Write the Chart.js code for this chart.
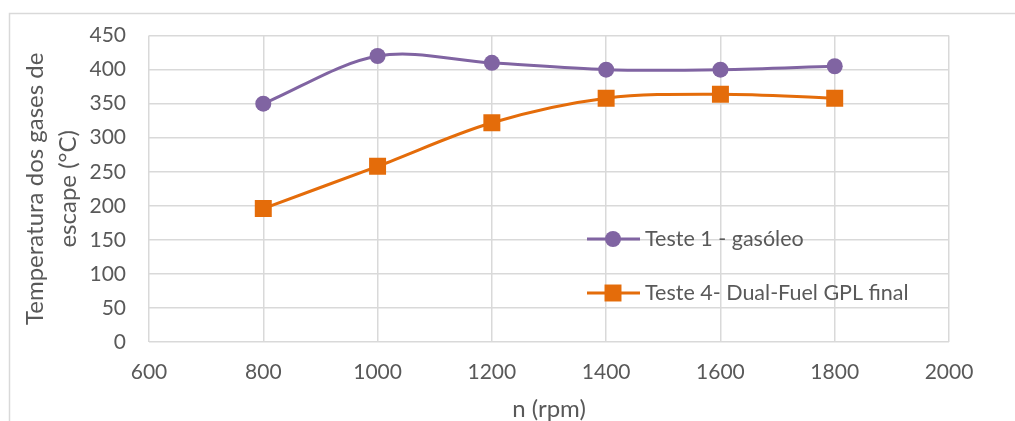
<!DOCTYPE html>
<html>
<head>
<meta charset="utf-8">
<script src="https://cdn.jsdelivr.net/npm/chart.js@4.4.1/dist/chart.umd.min.js"></script>
<style>
html,body{margin:0;padding:0;background:#fff;}
#wrap{width:1015px;height:421px;}
</style>
</head>
<body>
<div id="wrap"><canvas id="tempChart" width="1015" height="421"></canvas></div>
<script>
// data
const rpm = [800, 1000, 1200, 1400, 1600, 1800];
const teste1 = [350, 420, 410, 400, 400, 405];
const teste4 = [196, 258, 322, 358, 364, 358];
const seriesNames = ['Teste 1 - gasóleo', 'Teste 4- Dual-Fuel GPL final'];
const xRange = [600, 2000, 200];
const yRange = [0, 450, 50];

const txt = '#595959';
const gridCol = '#d9d9d9';
const fam = 'Lato, "Liberation Sans", sans-serif';

function pts(vals){
	return rpm.map((x, i) => ({x: x, y: vals[i]}));
}

// frame round the whole chart and the legend inside the plot
const frameLegend = {
	id: 'frameLegend',
	beforeDraw(chart){
		const ctx = chart.ctx;
		ctx.save();
		ctx.strokeStyle = gridCol;
		ctx.lineWidth = 1.5;
		ctx.strokeRect(9.5, 13.5, 1100, 500);
		ctx.restore();
	},
	afterDraw(chart){
		const ctx = chart.ctx;
		const rows = [239, 293];
		chart.data.datasets.forEach((ds, i) => {
			const y = rows[i];
			ctx.save();
			ctx.strokeStyle = ds.borderColor;
			ctx.lineWidth = ds.borderWidth;
			ctx.beginPath();
			ctx.moveTo(587, y);
			ctx.lineTo(640, y);
			ctx.stroke();
			ctx.fillStyle = ds.backgroundColor;
			Chart.helpers.drawPoint(ctx, {pointStyle: ds.pointStyle, radius: ds.pointRadius, rotation: 0, borderWidth: 0}, 613, y);
			ctx.fillStyle = txt;
			ctx.font = '21.5px ' + fam;
			ctx.textBaseline = 'middle';
			ctx.textAlign = 'left';
			ctx.fillText(ds.label, 645, y);
			ctx.restore();
		});
	}
};

const tempChart = new Chart(document.querySelector('#tempChart').getContext('2d'), {
	type: 'line',
	data: {
		datasets: [{
			label: seriesNames[0],
			data: pts(teste1),
			borderColor: '#8064a2',
			backgroundColor: '#8064a2',
			borderWidth: 3,
			pointStyle: 'circle',
			pointRadius: 8,
			pointBorderWidth: 0,
			tension: 0.33
		}, {
			label: seriesNames[1],
			data: pts(teste4),
			borderColor: '#e46c0a',
			backgroundColor: '#e46c0a',
			borderWidth: 3,
			pointStyle: 'rect',
			pointRadius: 12,
			pointBorderWidth: 0,
			tension: 0.33
		}]
	},
	options: {
		responsive: false,
		devicePixelRatio: 1,
		animation: false,
		layout: {padding: {left: 0, top: 35, right: 66, bottom: 0}},
		plugins: {legend: {display: false}, tooltip: {enabled: false}},
		scales: {
			x: {
				type: 'linear',
				min: xRange[0], max: xRange[1],
				ticks: {stepSize: xRange[2], color: txt, font: {family: fam, size: 21}, padding: 18,
					callback: v => String(v)},
				grid: {color: gridCol, lineWidth: 1.5, drawTicks: false},
				border: {display: false},
				title: {display: true, text: 'n (rpm)', color: txt, font: {family: fam, size: 24, lineHeight: 1}, padding: {top: 0, bottom: 0}},
				afterFit(scale){ scale.height = 79; }
			},
			y: {
				min: yRange[0], max: yRange[1],
				ticks: {stepSize: yRange[2], color: txt, font: {family: fam, size: 21}, padding: 23},
				grid: {color: gridCol, lineWidth: 1.5, drawTicks: false},
				border: {display: false},
				title: {display: true, text: ['Temperatura dos gases de', 'escape (°C)'], color: txt,
					font: {family: fam, size: 24, lineHeight: 1.375}, padding: {top: 19, bottom: 0}},
				afterFit(scale){ scale.width = 149; }
			}
		}
	},
	plugins: [frameLegend]
});
</script>
</body>
</html>
